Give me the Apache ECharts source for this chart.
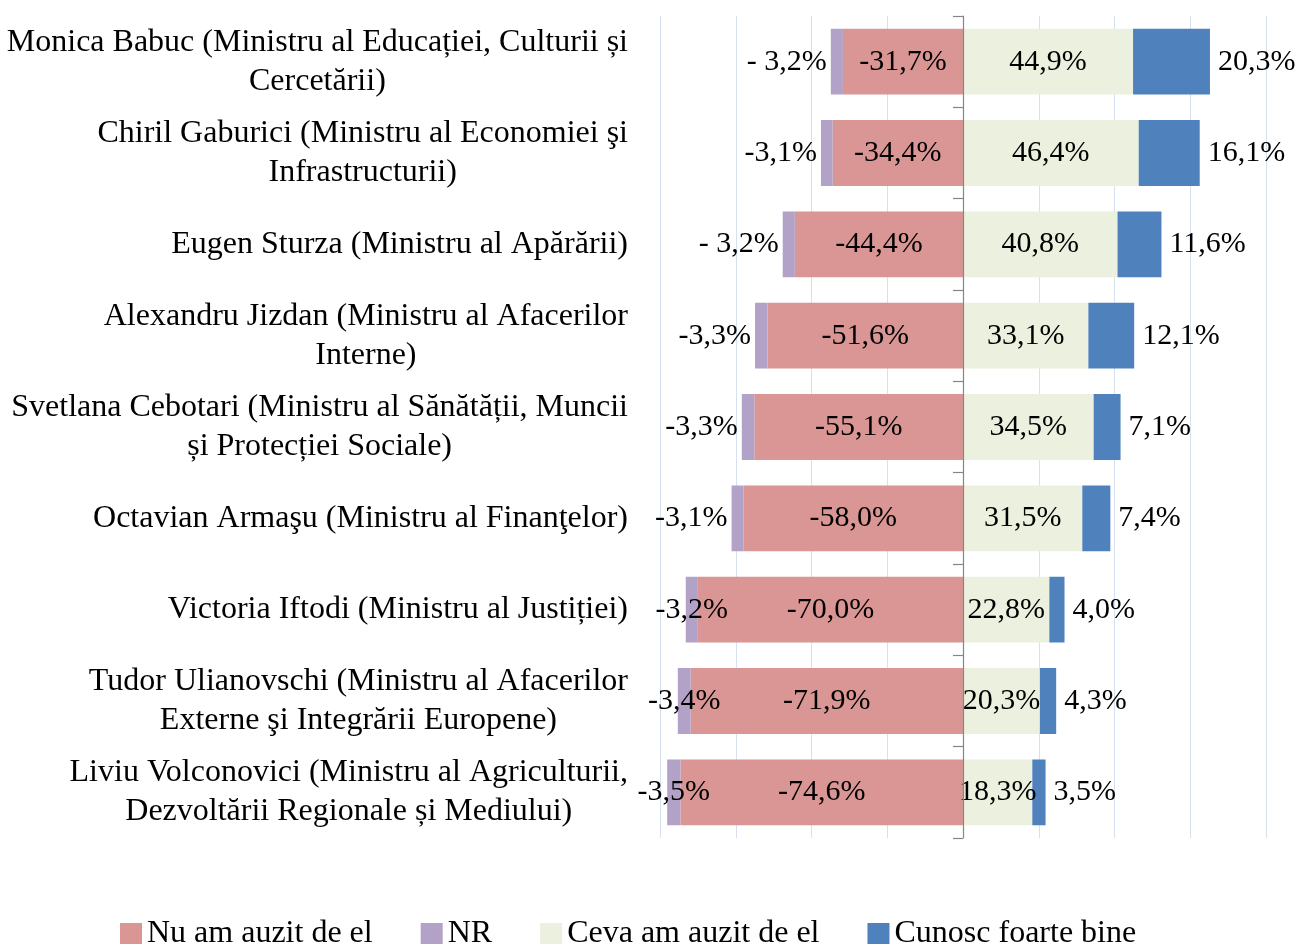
<!DOCTYPE html>
<html><head><meta charset="utf-8">
<script src="https://cdn.jsdelivr.net/npm/echarts@6/dist/echarts.min.js"></script>
<style>html,body{margin:0;padding:0;background:#fff}#c{width:1296px;height:944px}</style>
</head><body><div id="c"></div>
<script>
const categories = [
  'Monica Babuc (Ministru al Educației, Culturii și\nCercetării)',
  'Chiril Gaburici (Ministru al Economiei şi\nInfrastructurii)',
  'Eugen Sturza (Ministru al Apărării)',
  'Alexandru Jizdan (Ministru al Afacerilor\nInterne)',
  'Svetlana Cebotari (Ministru al Sănătății, Muncii\nși Protecției Sociale)',
  'Octavian Armaşu (Ministru al Finanţelor)',
  'Victoria Iftodi (Ministru al Justiției)',
  'Tudor Ulianovschi (Ministru al Afacerilor\nExterne şi Integrării Europene)',
  'Liviu Volconovici (Ministru al Agriculturii,\nDezvoltării Regionale și Mediului)'
];
const seriesNames = ['Nu am auzit de el', 'NR', 'Ceva am auzit de el', 'Cunosc foarte bine'];
const nuAmAuzit = [-31.7, -34.4, -44.4, -51.6, -55.1, -58.0, -70.0, -71.9, -74.6];
const nr = [-3.2, -3.1, -3.2, -3.3, -3.3, -3.1, -3.2, -3.4, -3.5];
const ceva = [44.9, 46.4, 40.8, 33.1, 34.5, 31.5, 22.8, 20.3, 18.3];
const cunosc = [20.3, 16.1, 11.6, 12.1, 7.1, 7.4, 4.0, 4.3, 3.5];
const nrLabels = ['- 3,2%', '-3,1%', '- 3,2%', '-3,3%', '-3,3%', '-3,1%', '-3,2%', '-3,4%', '-3,5%'];

const FONT = 'Liberation Serif';
const fmt = v => v.toFixed(1).replace('.', ',') + '%';
const valLabel = {show: true, color: '#000', fontFamily: FONT, fontSize: 30};

const chart = echarts.init(document.getElementById('c'));
chart.setOption({
  animation: false,
  backgroundColor: '#fff',
  grid: {left: 660, right: 30, top: 16, bottom: 106, containLabel: false},
  legend: {
    data: seriesNames,
    left: 120, top: 918, padding: 0,
    itemWidth: 22, itemHeight: 22, itemGap: 48,
    icon: 'rect',
    textStyle: {fontFamily: FONT, fontSize: 32, color: '#000'}
  },
  xAxis: {
    type: 'value', min: -80, max: 80, interval: 20,
    axisLine: {show: false}, axisTick: {show: false}, axisLabel: {show: false},
    splitLine: {show: true, lineStyle: {color: '#D6E1F0', width: 1}}
  },
  yAxis: [
    {
      type: 'category', data: categories, inverse: true, position: 'left',
      axisLine: {show: false, onZero: false}, axisTick: {show: false},
      splitLine: {show: false},
      axisLabel: {
        interval: 0, margin: 32, color: '#000', fontFamily: FONT, fontSize: 32, lineHeight: 39,
        formatter: v => v.split('\n').map(l => '{c|' + l + '}').join('\n'),
        rich: {c: {align: 'center', fontFamily: FONT, fontSize: 32, lineHeight: 39, color: '#000'}}
      }
    },
    {
      type: 'category', data: categories, inverse: true, position: 'right', z: 10,
      axisLine: {show: true, onZero: true, lineStyle: {color: '#868686', width: 1.2}},
      axisTick: {show: true, inside: true, length: 10, lineStyle: {color: '#868686', width: 1.2}},
      axisLabel: {show: false}, splitLine: {show: false}
    }
  ],
  series: [
    {
      name: seriesNames[0], type: 'bar', stack: 't', barWidth: '72%',
      itemStyle: {color: '#D99694'},
      label: Object.assign({}, valLabel, {position: 'inside', formatter: p => fmt(p.value)}),
      data: nuAmAuzit
    },
    {
      name: seriesNames[1], type: 'bar', stack: 't', barWidth: '72%',
      itemStyle: {color: '#B3A2C7'},
      label: Object.assign({}, valLabel, {formatter: p => nrLabels[p.dataIndex]}),
      data: nr.map((v, i) => ({value: v, label: {position: i >= 6 ? 'inside' : 'left', distance: 4}}))
    },
    {
      name: seriesNames[2], type: 'bar', stack: 't', barWidth: '72%',
      itemStyle: {color: '#EBF1DE'},
      label: Object.assign({}, valLabel, {position: 'inside', formatter: p => fmt(p.value)}),
      data: ceva
    },
    {
      name: seriesNames[3], type: 'bar', stack: 't', barWidth: '72%',
      itemStyle: {color: '#4F81BD'},
      label: Object.assign({}, valLabel, {position: 'right', distance: 8, formatter: p => fmt(p.value)}),
      data: cunosc
    }
  ]
});
</script></body></html>
